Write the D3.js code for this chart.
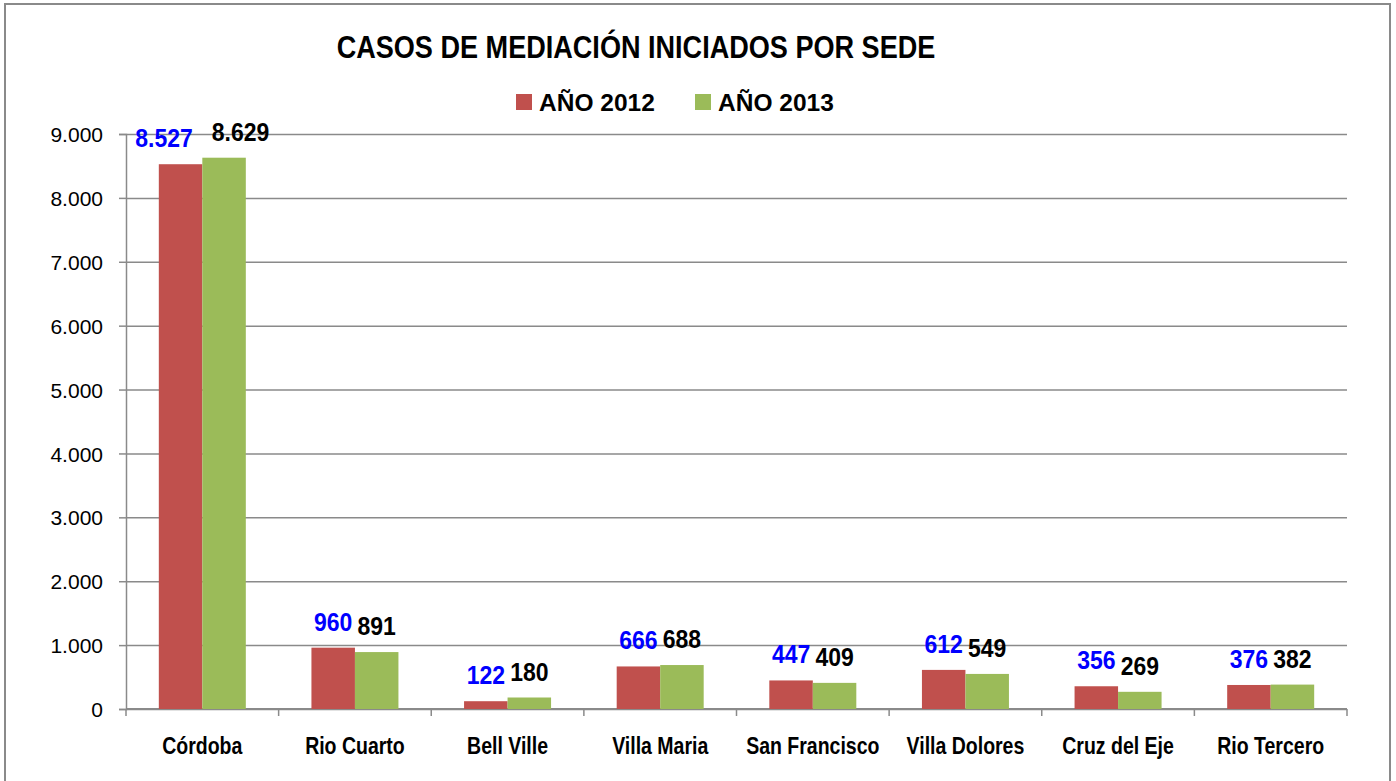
<!DOCTYPE html>
<html>
<head>
<meta charset="utf-8">
<script src="https://cdn.jsdelivr.net/npm/d3@7"></script>
<style>
  html, body { margin: 0; padding: 0; background: #fff; }
  svg { display: block; font-family: "Liberation Sans", Arial, sans-serif; }
</style>
</head>
<body>
<script>
const categories = ["Córdoba", "Rio Cuarto", "Bell Ville", "Villa Maria", "San Francisco", "Villa Dolores", "Cruz del Eje", "Rio Tercero"];
const values2012 = [8527, 960, 122, 666, 447, 612, 356, 376];
const values2013 = [8629, 891, 180, 688, 409, 549, 269, 382];
const seriesNames = ["AÑO 2012", "AÑO 2013"];
const yTicks = [0, 1000, 2000, 3000, 4000, 5000, 6000, 7000, 8000, 9000];
const title = "CASOS DE MEDIACIÓN INICIADOS POR SEDE";

const width = 1396;
const height = 781;

const marginTop = 134;
const marginRight = 49;
const marginBottom = 72;
const marginLeft = 126;

const barColors = ["#C0504D", "#9BBB59"];
const labelColors = ["#0000FF", "#000000"];
const gridColor = "#8a8a8a";

const locale = d3.formatLocale({ decimal: ",", thousands: ".", grouping: [3], currency: ["$", ""] });
const fmt = locale.format(",d");

const svg = d3.select("body")
  .append("svg")
  .attr("width", width)
  .attr("height", height);

svg.append("rect")
  .attr("width", "100%")
  .attr("height", "100%")
  .attr("fill", "white");

// outer chart border (bottom edge falls outside the picture)
svg.append("rect")
  .attr("x", 5)
  .attr("y", 4)
  .attr("width", 1385)
  .attr("height", 820)
  .attr("fill", "none")
  .attr("stroke", gridColor)
  .attr("stroke-width", 2);

const x0 = d3.scaleBand()
  .domain(categories)
  .range([marginLeft, width - marginRight])
  .paddingInner(0.43)
  .paddingOuter(0.215);

const x1 = d3.scaleBand()
  .domain(seriesNames)
  .range([0, x0.bandwidth()]);

const y = d3.scaleLinear()
  .domain([0, 9000])
  .range([height - marginBottom, marginTop]);

// gridlines
const grid = svg.append("g")
  .attr("transform", "translate(" + marginLeft + ",0)")
  .call(d3.axisLeft(y).tickValues(yTicks).tickSize(-(width - marginLeft - marginRight)).tickFormat(""));
grid.select(".domain").remove();
grid.selectAll("line").attr("stroke", gridColor).attr("stroke-width", 1.5);

// y axis
const yAxis = svg.append("g")
  .attr("transform", "translate(" + marginLeft + ",0)")
  .call(d3.axisLeft(y).tickValues(yTicks).tickSize(7).tickPadding(16).tickFormat(fmt));
yAxis.select(".domain").attr("stroke", gridColor).attr("stroke-width", 1.5);
yAxis.selectAll("line").attr("stroke", gridColor).attr("stroke-width", 1.5);
yAxis.selectAll("text")
  .attr("fill", "#000")
  .style("font-size", "21px")
  .attr("dy", "0.36em");

// x axis: baseline + ticks at category boundaries
const baseY = y(0);
svg.append("line")
  .attr("x1", marginLeft)
  .attr("x2", width - marginRight)
  .attr("y1", baseY)
  .attr("y2", baseY)
  .attr("stroke", gridColor)
  .attr("stroke-width", 2);

const bounds = d3.range(categories.length + 1).map(function (i) {
  return x0.range()[0] + i * x0.step();
});
svg.append("g")
  .selectAll("line")
  .data(bounds)
  .join("line")
  .attr("x1", d => d)
  .attr("x2", d => d)
  .attr("y1", baseY)
  .attr("y2", baseY + 7)
  .attr("stroke", gridColor)
  .attr("stroke-width", 1.5);

// category labels
const catLabels = svg.append("g")
  .selectAll("text")
  .data(categories)
  .join("text")
  .attr("transform", d => "translate(" + (x0(d) + x0.bandwidth() / 2) + ",754) scale(0.83,1)")
  .attr("text-anchor", "middle")
  .attr("font-weight", "bold")
  .style("font-size", "23.5px")
  .attr("fill", "#000")
  .text(d => d);

// bars
const rows = categories.map(function (c, i) {
  return { cat: c, vals: [values2012[i], values2013[i]] };
});

const groups = svg.append("g")
  .selectAll("g")
  .data(rows)
  .join("g")
  .attr("transform", d => "translate(" + x0(d.cat) + ",0)");

groups.selectAll("rect")
  .data(d => d.vals.map((v, k) => ({ key: seriesNames[k], k: k, v: v })))
  .join("rect")
  .attr("x", d => x1(d.key))
  .attr("y", d => y(d.v))
  .attr("width", x1.bandwidth())
  .attr("height", d => y(0) - y(d.v))
  .attr("fill", d => barColors[d.k]);

// value labels
const labelScale = 0.92;
const labelOffset = 17;
groups.each(function (d) {
  const g = d3.select(this);
  const items = d.vals.map(function (v, k) {
    const t = g.append("text")
      .attr("font-weight", "bold")
      .style("font-size", "25px")
      .attr("text-anchor", "middle")
      .attr("fill", labelColors[k])
      .text(fmt(v));
    const w = t.node().getComputedTextLength() * labelScale;
    return { t: t, w: w, cx: x1(seriesNames[k]) + x1.bandwidth() / 2, y: y(v) - labelOffset };
  });
  // push labels apart when they overlap
  const a = items[0], b = items[1];
  const gap = (b.cx - b.w / 2) - (a.cx + a.w / 2);
  if (gap < 0) {
    const shift = (-gap + 19) / 2;
    a.cx -= shift;
    b.cx += shift;
  }
  items.forEach(function (it) {
    it.t.attr("transform", "translate(" + it.cx + "," + it.y + ") scale(" + labelScale + ",1)");
  });
});

// title
svg.append("text")
  .attr("transform", "translate(636,58) scale(0.86,1)")
  .attr("text-anchor", "middle")
  .attr("font-weight", "bold")
  .style("font-size", "31.5px")
  .attr("fill", "#000")
  .text(title);

// legend
const legend = svg.append("g")
  .attr("transform", "translate(516,94)")
  .selectAll("g")
  .data(seriesNames)
  .join("g")
  .attr("transform", (d, i) => "translate(" + i * 179 + ",0)");

legend.append("rect")
  .attr("width", 16)
  .attr("height", 16)
  .attr("fill", (d, i) => barColors[i]);

legend.append("text")
  .attr("x", 23)
  .attr("y", 17)
  .attr("font-weight", "bold")
  .style("font-size", "24.5px")
  .attr("fill", "#000")
  .text(d => d);
</script>
</body>
</html>
